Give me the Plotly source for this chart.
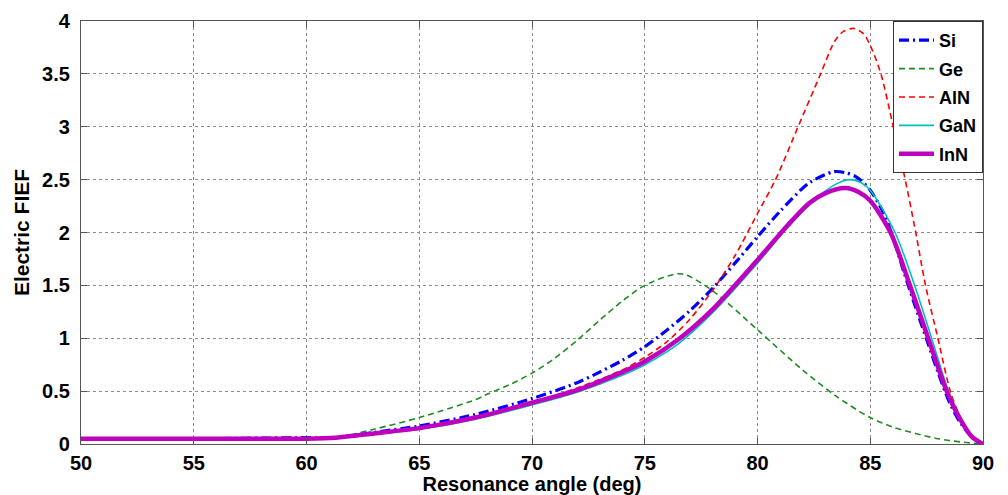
import plotly.graph_objects as go

# ---- data ----
si_x = [50, 55, 60, 61.3, 63, 65, 67.5, 70, 72, 73, 74, 75, 76, 77, 78, 79, 80, 81, 82.3, 83.4, 83.9, 84.3, 84.6, 85, 85.6, 86.0, 86.5, 87.0, 87.5, 88.0, 88.5, 89, 89.5, 90]
si_y = [0.05, 0.05, 0.06, 0.06, 0.11, 0.17, 0.28, 0.43, 0.58, 0.68, 0.79, 0.92, 1.08, 1.26, 1.47, 1.71, 1.96, 2.20, 2.47, 2.575, 2.565, 2.535, 2.49, 2.40, 2.18, 1.96, 1.62, 1.30, 0.99, 0.68, 0.40, 0.20, 0.07, 0]

ge_x = [50, 55, 60, 61.3, 63, 65, 67.5, 68, 69, 70, 71, 72, 73, 74, 75, 76.6, 78, 80, 82, 83.5, 85, 86, 87, 88, 89, 90]
ge_y = [0.05, 0.05, 0.05, 0.06, 0.14, 0.25, 0.42, 0.47, 0.56, 0.67, 0.81, 0.98, 1.17, 1.35, 1.50, 1.61, 1.45, 1.08, 0.70, 0.45, 0.25, 0.16, 0.10, 0.05, 0.02, 0]

aln_x = [50, 55, 60, 61.3, 63, 65, 67.5, 70, 72, 74, 75, 76, 77, 78, 79, 80, 80.8, 81.8, 82.8, 83.4, 83.8, 84.25, 84.7, 85.1, 85.5, 86, 86.5, 87, 87.45, 88, 88.55, 89, 89.5, 90]
aln_y = [0.05, 0.05, 0.05, 0.06, 0.10, 0.15, 0.25, 0.39, 0.53, 0.70, 0.82, 0.97, 1.18, 1.45, 1.78, 2.18, 2.50, 3.0, 3.5, 3.80, 3.90, 3.93, 3.88, 3.72, 3.48, 3.02, 2.55, 2.02, 1.5, 1.0, 0.5, 0.25, 0.08, 0]

gan_x = [50, 55, 60, 61.3, 63, 65, 67.5, 70, 72, 74, 75, 76.5, 78, 80, 81.3, 82.3, 83, 83.5, 84.1, 84.6, 85, 86.1, 87, 87.72, 88.47, 89, 89.5, 90]
gan_y = [0.05, 0.05, 0.05, 0.06, 0.095, 0.14, 0.235, 0.37, 0.49, 0.65, 0.75, 0.95, 1.24, 1.71, 2.04, 2.26, 2.39, 2.46, 2.50, 2.47, 2.40, 2.0, 1.48, 1.0, 0.5, 0.25, 0.08, 0]

inn_x = [50, 55, 60, 61.3, 63, 65, 67.5, 70, 72, 74, 75, 76.5, 78, 80, 81.3, 82.3, 83, 83.9, 84.5, 85, 85.9, 86.76, 87.57, 88.39, 89, 89.5, 90]
inn_y = [0.05, 0.05, 0.05, 0.06, 0.10, 0.15, 0.25, 0.39, 0.51, 0.68, 0.78, 0.99, 1.27, 1.74, 2.06, 2.28, 2.37, 2.42, 2.38, 2.30, 2.0, 1.5, 1.0, 0.5, 0.23, 0.07, 0]

x_ticks = [50, 55, 60, 65, 70, 75, 80, 85, 90]
y_ticks = [0, 0.5, 1, 1.5, 2, 2.5, 3, 3.5, 4]
y_tick_text = ["0", "0.5", "1", "1.5", "2", "2.5", "3", "3.5", "4"]

FONT = "Liberation Sans, Arial, sans-serif"

fig = go.Figure()
series = [
    ("Si", si_x, si_y, dict(color="#0000FF", width=3.2, dash="10px,4px,2px,4px")),
    ("Ge", ge_x, ge_y, dict(color="#1E8C1E", width=1.6, dash="6px,4px")),
    ("AlN", aln_x, aln_y, dict(color="#FF0000", width=1.6, dash="6px,4px")),
    ("GaN", gan_x, gan_y, dict(color="#00BFBF", width=1.6)),
    ("InN", inn_x, inn_y, dict(color="#BF00BF", width=4.5)),
]
for name, xs, ys, ln in series:
    fig.add_trace(go.Scatter(x=xs, y=ys, name=name, mode="lines", line_shape="spline",
                             line=dict(smoothing=0.8, **ln), legendgroup=name))

axis_common = dict(
    showline=True, linecolor="#555555", linewidth=1.2, mirror="ticks",
    ticks="inside", ticklen=6, tickcolor="#555555",
    showgrid=True, gridcolor="#8c8c8c", griddash="dot", gridwidth=1,
    zeroline=False, automargin=False,
    tickfont=dict(family=FONT, size=20, color="black", weight="bold"),
)

fig.update_xaxes(range=[50, 90], tickvals=x_ticks, ticklabelstandoff=1,
                 title=dict(text="Resonance angle (deg)", standoff=4,
                            font=dict(family=FONT, size=20, color="black", weight="bold")),
                 **axis_common)
fig.update_yaxes(range=[0, 4], tickvals=y_ticks, ticktext=y_tick_text, ticklabelstandoff=6,
                 title=dict(text="Electric FIEF", standoff=6,
                            font=dict(family=FONT, size=21, color="black", weight="bold")),
                 **axis_common)

# page body has an 8px margin: compensate so the plot box lands at x 81-983, y 21-444
fig.update_layout(
    width=1000, height=487,
    margin=dict(l=73, r=25, t=13, b=51),
    plot_bgcolor="white", paper_bgcolor="white",
    font=dict(family=FONT, color="black"),
    legend=dict(x=1, xanchor="right", y=1, yanchor="top",
                bgcolor="white", bordercolor="#333333", borderwidth=1,
                font=dict(family=FONT, size=18, color="black", weight="bold"),
                traceorder="grouped", tracegroupgap=2, itemwidth=35),
    showlegend=True,
)

fig.write_html("out.html")
